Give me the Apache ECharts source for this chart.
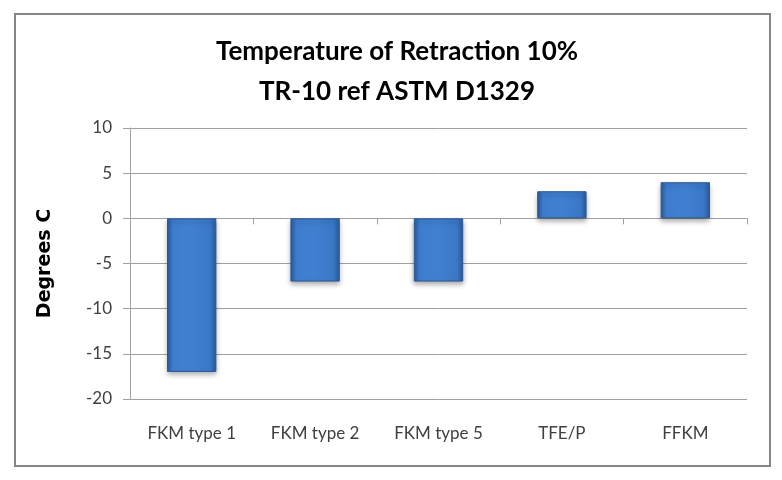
<!DOCTYPE html>
<html>
<head>
<meta charset="utf-8">
<script src="https://cdn.jsdelivr.net/npm/echarts@6/dist/echarts.min.js"></script>
<style>
  html, body { margin: 0; padding: 0; background: #fff; }
  #chart { width: 782px; height: 480px; }
</style>
</head>
<body>
<div id="chart"></div>
<script>
// data
const categories = ['FKM type 1', 'FKM type 2', 'FKM type 5', 'TFE/P', 'FFKM'];
const tr10 = [-17, -7, -7, 3, 4];
const yTicks = [-20, -15, -10, -5, 0, 5, 10];

const chart = echarts.init(document.getElementById('chart'));

const barColor = new echarts.graphic.LinearGradient(0, 0, 1, 0, [
  { offset: 0, color: '#2b5b9c' },
  { offset: 0.12, color: '#3e7dce' },
  { offset: 0.5, color: '#4080d2' },
  { offset: 0.88, color: '#3a77c6' },
  { offset: 1, color: '#2b5b9c' }
]);

const option = {
  animation: false,
  backgroundColor: '#fff',
  title: {
    text: 'Temperature of Retraction 10%\nTR-10 ref ASTM D1329',
    left: 397,
    top: 32,
    textAlign: 'center',
    padding: 0,
    textStyle: {
      fontFamily: 'Lato',
      fontWeight: 'bold',
      fontSize: 26,
      lineHeight: 40,
      color: '#000'
    }
  },
  graphic: [{
    type: 'rect',
    shape: { x: 15, y: 14, width: 755, height: 452 },
    style: { fill: 'none', stroke: '#868686', lineWidth: 2 },
    silent: true
  }],
  grid: { left: 130, right: 35, top: 128, bottom: 81 },
  xAxis: [{
    type: 'category',
    data: categories,
    axisLine: { onZero: true, lineStyle: { color: '#a0a0a0', width: 1 } },
    axisTick: { show: true, length: 6, inside: false, lineStyle: { color: '#a0a0a0' } },
    axisLabel: { show: false },
    splitLine: { show: false }
  }, {
    type: 'category',
    data: categories,
    position: 'bottom',
    axisLine: { show: false },
    axisTick: { show: false },
    axisLabel: {
      margin: 26,
      fontFamily: 'Lato',
      fontSize: 17,
      color: '#404040'
    }
  }],
  yAxis: {
    type: 'value',
    min: yTicks[0],
    max: yTicks[yTicks.length - 1],
    interval: 5,
    name: 'Degrees C',
    nameLocation: 'middle',
    nameGap: 75,
    nameTextStyle: {
      fontFamily: 'DejaVu Sans',
      fontWeight: 'bold',
      fontSize: 19,
      color: '#000'
    },
    axisLine: { show: true, lineStyle: { color: '#a0a0a0' } },
    axisTick: { show: true, length: 7, lineStyle: { color: '#a0a0a0' } },
    axisLabel: {
      margin: 18,
      fontFamily: 'Lato',
      fontSize: 17,
      color: '#404040'
    },
    splitLine: { show: true, lineStyle: { color: '#a0a0a0', width: 1 } }
  },
  series: [{
    type: 'bar',
    data: tr10,
    xAxisIndex: 0,
    barWidth: '40%',
    itemStyle: {
      color: barColor,
      borderColor: '#2a5896',
      borderWidth: 1,
      shadowColor: 'rgba(0,0,0,0.35)',
      shadowBlur: 5,
      shadowOffsetY: 3
    }
  }]
};

chart.setOption(option);
</script>
</body>
</html>
